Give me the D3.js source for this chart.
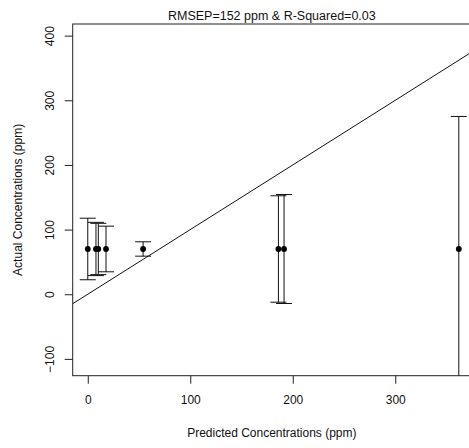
<!DOCTYPE html>
<html>
<head>
<meta charset="utf-8">
<script src="https://cdn.jsdelivr.net/npm/d3@7"></script>
<style>
  html, body { margin: 0; padding: 0; background: #fff; }
  svg { display: block; }
  text { font-family: "Liberation Sans", Arial, sans-serif; fill: #111; }
</style>
</head>
<body>
<div id="chart"></div>
<script>
// Predicted vs. actual concentrations with prediction error bars
const predicted = [0, 8, 10.3, 17.8, 54, 186, 191.5, 362];
const actual    = [70, 70, 70, 70, 70, 70, 70, 70];
const errHalf   = [47.6, 41.2, 39.7, 35.3, 11.1, 82.3, 84.3, 205];
const xTicks = [0, 100, 200, 300];
const yTicks = [-100, 0, 100, 200, 300, 400];
const titleText = "RMSEP=152 ppm & R-Squared=0.03";
const xLabel = "Predicted Concentrations (ppm)";
const yLabel = "Actual Concentrations (ppm)";

const W = 469, H = 448;
const box = { left: 72.7, right: 471, top: 24, bottom: 375.7 };

const x = d3.scaleLinear().domain([-14.7, 373.9]).range([box.left, box.right]);
const y = d3.scaleLinear().domain([-126, 418]).range([box.bottom, box.top]);

const svg = d3.select("#chart").append("svg")
  .attr("width", W).attr("height", H);

svg.append("defs").append("clipPath").attr("id", "plotClip")
  .append("rect")
  .attr("x", box.left).attr("y", box.top)
  .attr("width", box.right - box.left).attr("height", box.bottom - box.top);

// plot frame
svg.append("rect")
  .attr("x", box.left).attr("y", box.top)
  .attr("width", box.right - box.left).attr("height", box.bottom - box.top)
  .attr("fill", "none").attr("stroke", "#222").attr("stroke-width", 1);

// axes: ticks outside the frame, labels below / left
const xAxis = d3.axisBottom(x).tickValues(xTicks).tickSize(8).tickPadding(10)
  .tickFormat(d3.format("d"));
const gx = svg.append("g").attr("transform", `translate(0,${box.bottom + 8})`).call(xAxis);
gx.select(".domain").remove();
gx.selectAll(".tick line").attr("stroke", "#222").attr("transform", "translate(0,-8)");
gx.selectAll(".tick text").attr("font-size", 12).attr("dy", "0.71em")
  .attr("y", 12).attr("fill", "#111");

const yAxis = d3.axisLeft(y).tickValues(yTicks).tickSize(8).tickFormat(d3.format("d"));
const gy = svg.append("g").attr("transform", `translate(${box.left - 8},0)`).call(yAxis);
gy.select(".domain").remove();
gy.selectAll(".tick line").attr("stroke", "#222").attr("transform", "translate(8,0)");
gy.selectAll(".tick text")
  .attr("x", null).attr("dy", null)
  .attr("text-anchor", "middle")
  .attr("font-size", 12).attr("fill", "#111")
  .attr("transform", "translate(-15,0) rotate(-90)")
  .attr("dy", "0.35em");

const plot = svg.append("g").attr("clip-path", "url(#plotClip)");

// 1:1 reference line
const lo = x.domain()[0], hi = x.domain()[1];
plot.append("line")
  .attr("x1", x(lo)).attr("y1", y(lo))
  .attr("x2", x(hi)).attr("y2", y(hi))
  .attr("stroke", "#111").attr("stroke-width", 1);

// error bars
const data = predicted.map((p, i) => ({ p, a: actual[i], e: errHalf[i] }));
const cap = 8;
const eb = plot.selectAll("g.eb").data(data).join("g").attr("class", "eb")
  .attr("stroke", "#111").attr("stroke-width", 1);
eb.append("line")
  .attr("x1", d => x(d.p)).attr("x2", d => x(d.p))
  .attr("y1", d => y(d.a + d.e)).attr("y2", d => y(d.a - d.e));
eb.append("line")
  .attr("x1", d => x(d.p) - cap).attr("x2", d => x(d.p) + cap)
  .attr("y1", d => y(d.a + d.e)).attr("y2", d => y(d.a + d.e));
eb.append("line")
  .attr("x1", d => x(d.p) - cap).attr("x2", d => x(d.p) + cap)
  .attr("y1", d => y(d.a - d.e)).attr("y2", d => y(d.a - d.e));

// points
plot.selectAll("circle").data(data).join("circle")
  .attr("cx", d => x(d.p)).attr("cy", d => y(d.a))
  .attr("r", 2.9).attr("fill", "#000");

// title and axis titles
svg.append("text").attr("x", (box.left + box.right) / 2).attr("y", 20)
  .attr("text-anchor", "middle").attr("font-size", 12.5).text(titleText);
svg.append("text").attr("x", (box.left + box.right) / 2).attr("y", 437)
  .attr("text-anchor", "middle").attr("font-size", 12).text(xLabel);
svg.append("text")
  .attr("transform", `translate(22,${(box.top + box.bottom) / 2}) rotate(-90)`)
  .attr("text-anchor", "middle").attr("font-size", 12).text(yLabel);
</script>
</body>
</html>
